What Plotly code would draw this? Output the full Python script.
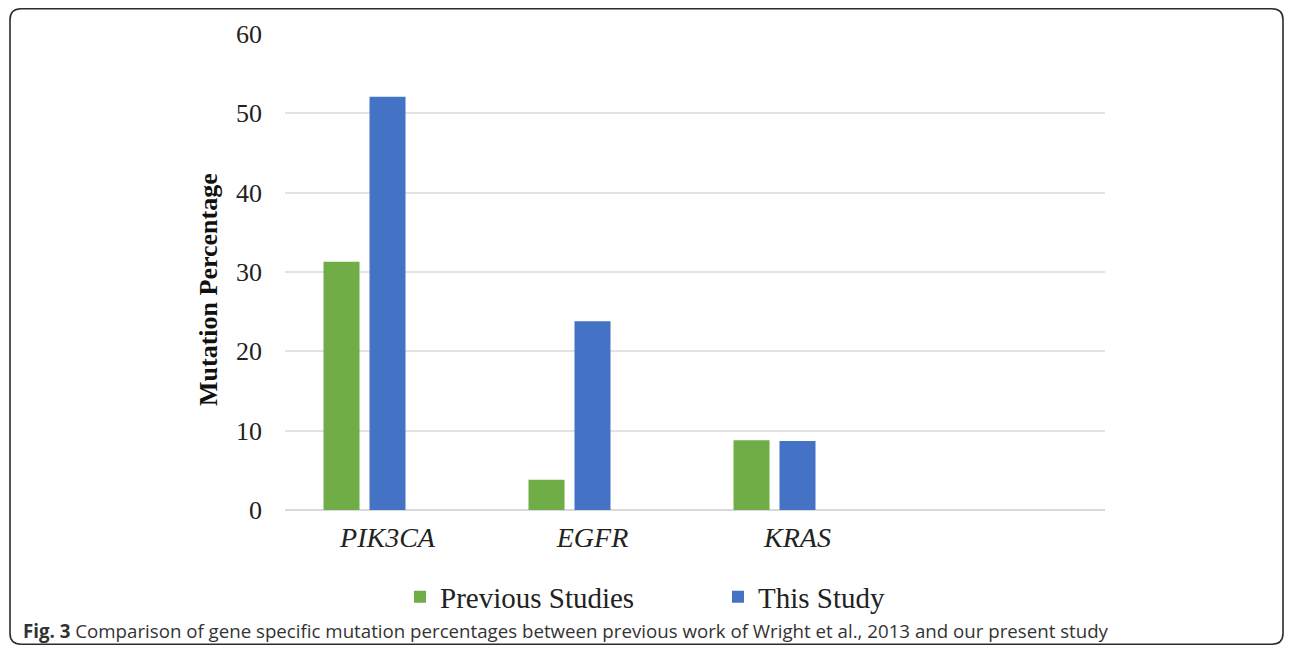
import plotly.graph_objects as go

genes = ["PIK3CA", "EGFR", "KRAS"]
previous_studies = [31.3, 3.8, 8.8]
this_study = [52.1, 23.8, 8.7]
y_ticks = [0, 10, 20, 30, 40, 50, 60]

OFF = 8  # page body margin
W, H = 1292 - 2 * OFF, 637  # keep page from scrolling
L, R, T, B = 285 - OFF, 1105 - OFF, 34 - OFF, 510 - OFF  # plot area (figure px)

x_pos = list(range(len(genes)))

fig = go.Figure()
fig.add_trace(go.Bar(x=x_pos, y=previous_studies, name="Previous Studies",
                     marker=dict(color="#70AD47", line=dict(width=0))))
fig.add_trace(go.Bar(x=x_pos, y=this_study, name="This Study",
                     marker=dict(color="#4472C4", line=dict(width=0))))
fig.add_trace(go.Bar(x=x_pos, y=[None] * len(genes), name="", showlegend=False,
                     marker=dict(color="rgba(0,0,0,0)")))


def px(x):  # screenshot px -> paper
    return (x - OFF - L) / (R - L)


def py(y):
    return (B - (y - OFF)) / (B - T)


# rounded frame (screenshot coords)
x0, x1, y0, y1, r = 10, 1283, 8.8, 644.2, 11
path = (f"M {px(x0+r)} {py(y0)} L {px(x1-r)} {py(y0)} "
        f"Q {px(x1)} {py(y0)} {px(x1)} {py(y0+r)} "
        f"L {px(x1)} {py(y1-r)} Q {px(x1)} {py(y1)} {px(x1-r)} {py(y1)} "
        f"L {px(x0+r)} {py(y1)} Q {px(x0)} {py(y1)} {px(x0)} {py(y1-r)} "
        f"L {px(x0)} {py(y0+r)} Q {px(x0)} {py(y0)} {px(x0+r)} {py(y0)} Z")

fig.update_layout(
    width=W, height=H,
    margin=dict(l=L, r=W - R, t=T, b=H - B, pad=0),
    paper_bgcolor="white", plot_bgcolor="white",
    barmode="group", bargap=0.327, bargroupgap=0.217,
    showlegend=True,
    legend=dict(orientation="h", x=px(400), y=py(597), xanchor="left", yanchor="middle",
                font=dict(family="Liberation Serif", size=29, color="#222222"),
                itemwidth=30, entrywidth=273, entrywidthmode="pixels",
                bgcolor="rgba(0,0,0,0)"),
    xaxis=dict(range=[-0.5, 3.5], tickvals=x_pos, ticktext=[f"<i>{g}</i>" for g in genes],
               tickfont=dict(family="Liberation Serif", size=28, color="#222222"),
               showgrid=False, showline=False, zeroline=False, ticks="", ticklabelstandoff=8),
    yaxis=dict(range=[0, 60], tickvals=y_ticks,
               tickfont=dict(family="Liberation Serif", size=26, color="#222222"),
               showgrid=True, gridcolor="#E3E3E3", gridwidth=1.5,
               zeroline=True, zerolinecolor="#D9D9D9", zerolinewidth=1.5,
               showline=False, ticks="", ticklabelstandoff=22),
    shapes=[dict(type="path", xref="paper", yref="paper", path=path,
                 line=dict(color="#2b2b2b", width=1.6), fillcolor="rgba(0,0,0,0)")],
    annotations=[
        dict(xref="paper", yref="paper", x=px(208), y=py(290),
             xanchor="center", yanchor="middle", showarrow=False, textangle=-90,
             text="<b>Mutation Percentage</b>",
             font=dict(family="Liberation Serif", size=26, color="#111111")),
        dict(xref="paper", yref="paper", x=px(21), y=py(630),
             xanchor="left", yanchor="middle", showarrow=False,
             text="<b>Fig. 3</b> Comparison of gene specific mutation percentages between previous work of Wright et al., 2013 and our present study",
             font=dict(family="Open Sans", size=18.7, color="#333333")),
    ],
)

fig.write_html("out.html")
